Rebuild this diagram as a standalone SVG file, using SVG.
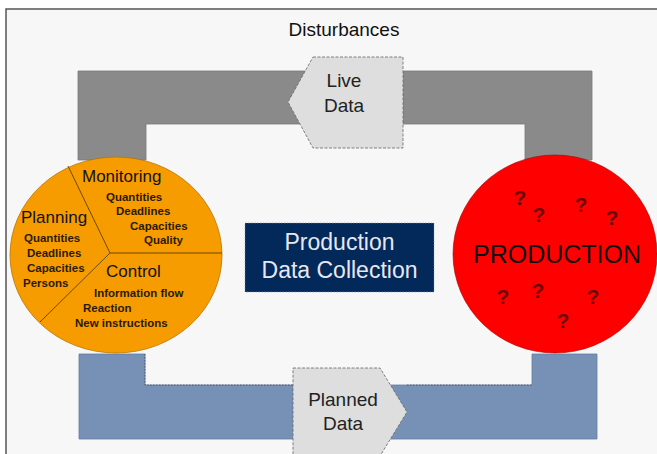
<svg xmlns="http://www.w3.org/2000/svg" width="657" height="454" viewBox="0 0 657 454">
<style>
text{font-family:"Liberation Sans",Arial,sans-serif;fill:#111}
.big{font-size:17px}
.sm{font-size:11.5px;font-weight:bold;fill:#2a1a00}
.lbl{font-size:19px;text-anchor:middle;fill:#222}
.q{font-size:21px;fill:#6e0000;text-anchor:middle;font-weight:bold}
.pent{fill:#dedede;stroke:#666;stroke-width:0.8;stroke-dasharray:3 1.5}
</style>
<rect x="0" y="0" width="657" height="454" fill="#ffffff"/>
<rect x="6" y="9" width="660" height="460" fill="#f7f7f7"/>
<path d="M6,454 V9 H657" fill="none" stroke="#555" stroke-width="1.5"/>
<text x="344" y="36" style="font-size:19px;text-anchor:middle">Disturbances</text>

<g id="connectors">
<path id="live-loop" d="M78,71 H592 V160 H525 V124 H146 V160 H78 Z" fill="#8a8a8a" stroke="#7a7a7a" stroke-width="0.8"/>
<path id="planned-loop" d="M79,354 H145 V385 H532 V354 H597 V439 H79 Z" fill="#7790b5" stroke="#637ca2" stroke-width="0.8"/>
<path d="M145,354 V385 H293 M407,385 H532" fill="none" stroke="#445" stroke-width="0.7" stroke-dasharray="1.5 1.5"/>
</g>

<g id="live-data">
<path class="pent" d="M313,57 H403 V148 H313 L288,102 Z"/>
<text class="lbl" x="344" y="87">Live</text>
<text class="lbl" x="344" y="112">Data</text>
</g>

<g id="planned-data">
<path class="pent" d="M293,368 H380 L407,412 L380,456 H293 Z"/>
<text class="lbl" x="343" y="406">Planned</text>
<text class="lbl" x="343" y="430">Data</text>
</g>

<g id="control-circle">
<ellipse cx="116" cy="255" rx="106" ry="98" fill="#f79c00" stroke="#b87300" stroke-width="0.8"/>
<path d="M68,166 L110,253 L222,253 M110,253 L40,322" fill="none" stroke="#6b4800" stroke-width="1"/>
<text class="big" x="82" y="182">Monitoring</text>
<text class="sm" x="106" y="201">Quantities</text>
<text class="sm" x="116" y="215">Deadlines</text>
<text class="sm" x="130" y="230">Capacities</text>
<text class="sm" x="144" y="244">Quality</text>
<text class="big" x="21" y="223">Planning</text>
<text class="sm" x="24" y="242">Quantities</text>
<text class="sm" x="27" y="257">Deadlines</text>
<text class="sm" x="27" y="272">Capacities</text>
<text class="sm" x="23" y="287">Persons</text>
<text class="big" x="106" y="277">Control</text>
<text class="sm" x="94" y="297">Information flow</text>
<text class="sm" x="83" y="312">Reaction</text>
<text class="sm" x="75" y="327">New instructions</text>
</g>

<g id="pdc">
<rect x="245" y="223" width="189" height="69" fill="#03285a" stroke="#8899bb" stroke-width="0.6" stroke-dasharray="1.5 1.5"/>
<text x="339.5" y="250" style="font-size:23px;text-anchor:middle;fill:#e6e8f0">Production</text>
<text x="339.5" y="278" style="font-size:23px;text-anchor:middle;fill:#e6e8f0">Data Collection</text>
</g>

<g id="production">
<ellipse cx="555" cy="254" rx="102" ry="99" fill="#ff0000" stroke="#a00000" stroke-width="0.6"/>
<text x="557" y="263" style="font-size:25px;text-anchor:middle">PRODUCTION</text>
<text class="q" x="520" y="205">?</text>
<text class="q" x="539" y="222">?</text>
<text class="q" x="581" y="212">?</text>
<text class="q" x="612" y="225">?</text>
<text class="q" x="503" y="304">?</text>
<text class="q" x="538" y="298">?</text>
<text class="q" x="593" y="304">?</text>
<text class="q" x="563" y="328">?</text>
</g>
</svg>
